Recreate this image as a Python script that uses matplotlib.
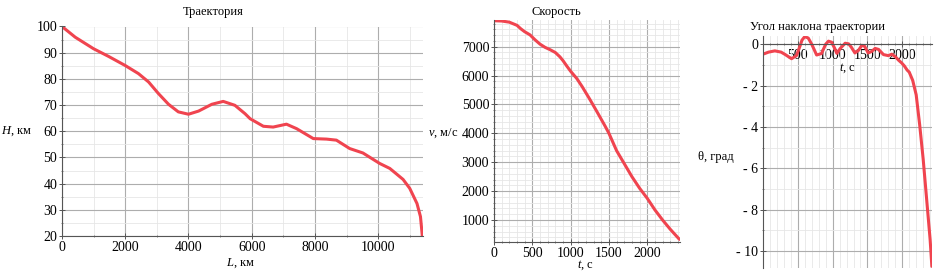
import numpy as np
import matplotlib

matplotlib.use("Agg")
import matplotlib.pyplot as plt
from matplotlib.ticker import MultipleLocator, FuncFormatter

plt.rcParams["font.family"] = ["Liberation Serif", "DejaVu Serif"]
plt.rcParams["mathtext.fontset"] = "custom"
plt.rcParams["mathtext.rm"] = "Liberation Serif"
plt.rcParams["mathtext.it"] = "Liberation Serif:italic"
plt.rcParams["font.size"] = 9

# Trajectory: altitude H (km) vs range L (km)
range_km = [0, 420, 1000, 1470, 2000, 2420, 2740, 3050, 3370, 3680, 4000, 4320,
            4740, 5100, 5470, 5790, 5950, 6370, 6680, 7100, 7420, 7950, 8370,
            8680, 9100, 9520, 10050, 10370, 10790, 11000, 11230, 11340, 11400]
alt_km = [100, 95.9, 91.5, 88.6, 85.1, 82.0, 78.8, 74.4, 70.3, 67.4, 66.5, 67.7,
          70.3, 71.4, 69.9, 66.7, 64.8, 61.9, 61.6, 62.7, 61.0, 57.2, 57.0,
          56.6, 53.4, 51.7, 47.7, 45.8, 41.6, 38.2, 32.4, 27.4, 19.8]

# Speed v (m/s) vs time t (s)
t_speed = [0, 100, 200, 300, 350, 400, 470, 535, 600, 665, 730, 800, 860, 900,
           950, 1000, 1080, 1150, 1250, 1350, 1450, 1500, 1600, 1700, 1800,
           1900, 2000, 2100, 2200, 2300, 2420]
speed = [7900, 7890, 7850, 7740, 7620, 7520, 7410, 7240, 7090, 6980, 6900, 6800,
         6650, 6520, 6330, 6150, 5900, 5620, 5180, 4720, 4250, 4000, 3400, 2950,
         2500, 2100, 1750, 1350, 1000, 680, 330]

# Flight path angle theta (deg) vs time t (s)
t_theta = [0, 80, 170, 260, 320, 410, 480, 530, 560, 600, 650, 700, 770, 840,
           900, 940, 985, 1030, 1060, 1110, 1180, 1230, 1270, 1320, 1370, 1420,
           1460, 1510, 1560, 1610, 1660, 1730, 1800, 1850, 1900, 1950, 1990,
           2030, 2070, 2100, 2150, 2200, 2250, 2300, 2350, 2400, 2425]
theta = [-0.48, -0.38, -0.32, -0.38, -0.5, -0.70, -0.55, -0.1, 0.2, 0.37, 0.3,
         0.0, -0.52, -0.45, 0.0, 0.15, 0.1, -0.2, -0.44, -0.2, 0.05, 0.02,
         -0.15, -0.42, -0.3, -0.05, -0.1, -0.42, -0.35, -0.2, -0.25, -0.5,
         -0.55, -0.48, -0.6, -0.78, -0.9, -1.05, -1.25, -1.35, -1.75, -2.45,
         -3.9, -5.55, -7.5, -9.45, -10.75]

LINE_COLOR = "#f0444f"
W, H = 939, 275
TICK_FS = 10
LABEL_FS = 9


def px(x0, y0, x1, y1):
    # pixel box (top-left origin) -> figure fraction rect
    return [x0 / W, 1 - y1 / H, (x1 - x0) / W, (y1 - y0) / H]


def style_axes(ax, xmaj, xmin, ymaj, ymin):
    ax.xaxis.set_major_locator(MultipleLocator(xmaj))
    ax.xaxis.set_minor_locator(MultipleLocator(xmin))
    ax.yaxis.set_major_locator(MultipleLocator(ymaj))
    ax.yaxis.set_minor_locator(MultipleLocator(ymin))
    ax.grid(which="major", color="#adadad", lw=0.8)
    ax.grid(which="minor", color="#e6e6e6", lw=0.6)
    ax.set_axisbelow(True)
    for s in ["top", "right"]:
        ax.spines[s].set_visible(False)
    for s in ["left", "bottom"]:
        ax.spines[s].set_color("#555555")
        ax.spines[s].set_linewidth(0.8)
    ax.tick_params(which="major", direction="inout", length=4, width=0.7,
                   color="#555555", labelsize=TICK_FS, pad=1.5)
    ax.tick_params(which="minor", direction="inout", length=2, width=0.5,
                   color="#555555")


fig = plt.figure(figsize=(W / 100, H / 100), dpi=100)

# Panel 1
ax1 = fig.add_axes(px(62, 26.5, 423, 236))
ax1.plot(range_km, alt_km, color=LINE_COLOR, lw=2.2, solid_capstyle="round")
ax1.set_xlim(0, 11420)
ax1.set_ylim(20, 100)
style_axes(ax1, 2000, 1000, 10, 5)
fig.text(213 / W, 1 - 12 / H, "Траектория", ha="center", va="center",
         fontsize=LABEL_FS)
fig.text(17 / W, 1 - 131 / H, "$H$, км", ha="center", va="center",
         fontsize=LABEL_FS)
fig.text(240 / W, 1 - 263 / H, "$L$, км", ha="center", va="center",
         fontsize=LABEL_FS)

# Panel 2
ax2 = fig.add_axes(px(494, 20, 680, 241.7))
ax2.plot(t_speed, speed, color=LINE_COLOR, lw=2.2, solid_capstyle="round")
ax2.set_xlim(0, 2427)
ax2.set_ylim(250, 7925)
style_axes(ax2, 500, 100, 1000, 200)
fig.text(556 / W, 1 - 12 / H, "Скорость", ha="center", va="center",
         fontsize=LABEL_FS)
fig.text(443 / W, 1 - 133 / H, "$v$, м/с", ha="center", va="center",
         fontsize=LABEL_FS)
fig.text(585 / W, 1 - 265 / H, "$t$, с", ha="center", va="center",
         fontsize=LABEL_FS)

# Panel 3
ax3 = fig.add_axes(px(763, 36, 932, 268))
ax3.plot(t_theta, theta, color=LINE_COLOR, lw=2.2, solid_capstyle="round")
ax3.set_xlim(0, 2427)
ax3.set_ylim(-10.83, 0.4)
style_axes(ax3, 500, 100, 2, 1)
ax3.spines["bottom"].set_position(("data", 0))
ax3.set_xticks([500, 1000, 1500, 2000])
ax3.yaxis.set_major_formatter(
    FuncFormatter(lambda v, p: "- %d" % abs(v) if v < 0 else "%d" % v))
fig.text(818 / W, 1 - 27 / H, "Угол наклона траектории", ha="center",
         va="center", fontsize=LABEL_FS)
fig.text(716 / W, 1 - 157 / H, "θ, град", ha="center", va="center",
         fontsize=LABEL_FS)
fig.text(847 / W, 1 - 68 / H, "$t$, с", ha="center", va="center",
         fontsize=LABEL_FS)

fig.savefig("out.png", dpi=100)
